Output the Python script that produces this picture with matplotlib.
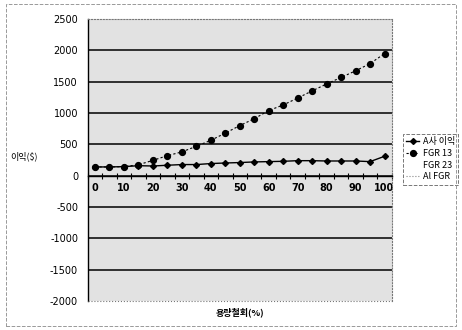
import numpy as np
import matplotlib.pyplot as plt
from matplotlib.patches import Rectangle

plt.rcParams['font.family'] = ['Noto Sans CJK KR', 'DejaVu Sans']

# 용량철회(%) 카테고리 (5% 간격)
categories = [0, 5, 10, 15, 20, 25, 30, 35, 40, 45, 50,
              55, 60, 65, 70, 75, 80, 85, 90, 95, 100]
a_profit = [140, 140, 145, 160, 155, 167, 178, 178, 194, 203, 210,
            220, 225, 230, 240, 240, 235, 235, 235, 225, 310]
fgr13 = [140, 140, 145, 175, 245, 320, 380, 470, 565, 680, 800,
         910, 1040, 1130, 1240, 1355, 1465, 1570, 1675, 1790, 1950]
fgr23 = [np.nan] * len(categories)
all_fgr = [np.nan] * len(categories)
y_ticks = [-2000, -1500, -1000, -500, 0, 500, 1000, 1500, 2000, 2500]

x = np.arange(len(categories))

fig = plt.figure(figsize=(4.62, 3.3), dpi=100)
ax = fig.add_axes([0.190, 0.088, 0.658, 0.854])
ax.set_facecolor('#e2e2e2')

# 가로 눈금선
for v in y_ticks[1:-1]:
    ax.axhline(v, color='black', lw=1.1, zorder=1)

ax.plot(x, a_profit, color='black', lw=1.0, marker='D', ms=3.0,
        label='A사 이익', zorder=4)
ax.plot(x, fgr13, color='black', lw=0.8, ls=(0, (2, 2)), marker='o', ms=4.2,
        label='FGR 13', zorder=4)
ax.plot(x, fgr23, color='white', lw=0, label='FGR 23')
ax.plot(x, all_fgr, color='#888888', lw=0.8, ls=':', label='Al FGR')

ax.set_xlim(-0.5, len(categories) - 0.5)
ax.set_ylim(-2000, 2500)
ax.set_yticks(y_ticks)
ax.set_yticklabels([str(v) for v in y_ticks], fontsize=7, family='DejaVu Sans')
ax.tick_params(axis='y', length=0, pad=7)

# 가로축은 0 위치에서 교차
ax.spines['bottom'].set_position(('data', 0))
ax.spines['bottom'].set_linewidth(1.0)
ax.set_xticks(x[::2])
ax.set_xticklabels([str(c) for c in categories[::2]], fontsize=7,
                   fontweight='bold', family='DejaVu Sans')
ax.set_xticks(np.arange(-0.5, len(categories), 1), minor=True)
ax.tick_params(axis='x', which='major', length=0, pad=5)
ax.tick_params(axis='x', which='minor', length=4, direction='inout', width=0.8)

ax.spines['left'].set_linewidth(1.0)
for s in ['top', 'right']:
    ax.spines[s].set_linestyle(':')
    ax.spines[s].set_color('#777777')
    ax.spines[s].set_linewidth(0.8)

# 아래쪽 테두리 (점선)
ax.plot([-0.5, len(categories) - 0.5], [-2000, -2000], color='#777777',
        lw=0.8, ls=':', clip_on=False, zorder=5)

fig.text(0.022, 0.527, '이익($)', fontsize=6.5, ha='left', va='center')
fig.text(0.52, 0.052, '용량철회(%)', fontsize=6.5, fontweight='bold',
         ha='center', va='center')

leg = ax.legend(loc='upper left', bbox_to_anchor=(0.862, 0.607),
                bbox_transform=fig.transFigure, frameon=True, fontsize=6.5,
                handlelength=1.5, handletextpad=0.4, borderpad=0.35,
                labelspacing=0.3, fancybox=False)
leg.get_frame().set_edgecolor('#555555')
leg.get_frame().set_linestyle('--')
leg.get_frame().set_linewidth(0.7)

# 바깥 테두리
fig.patches.append(Rectangle((0.012, 0.012), 0.976, 0.976,
                             transform=fig.transFigure, fill=False,
                             ls='--', lw=0.7, ec='#999999'))

fig.savefig('out.png', dpi=100)
